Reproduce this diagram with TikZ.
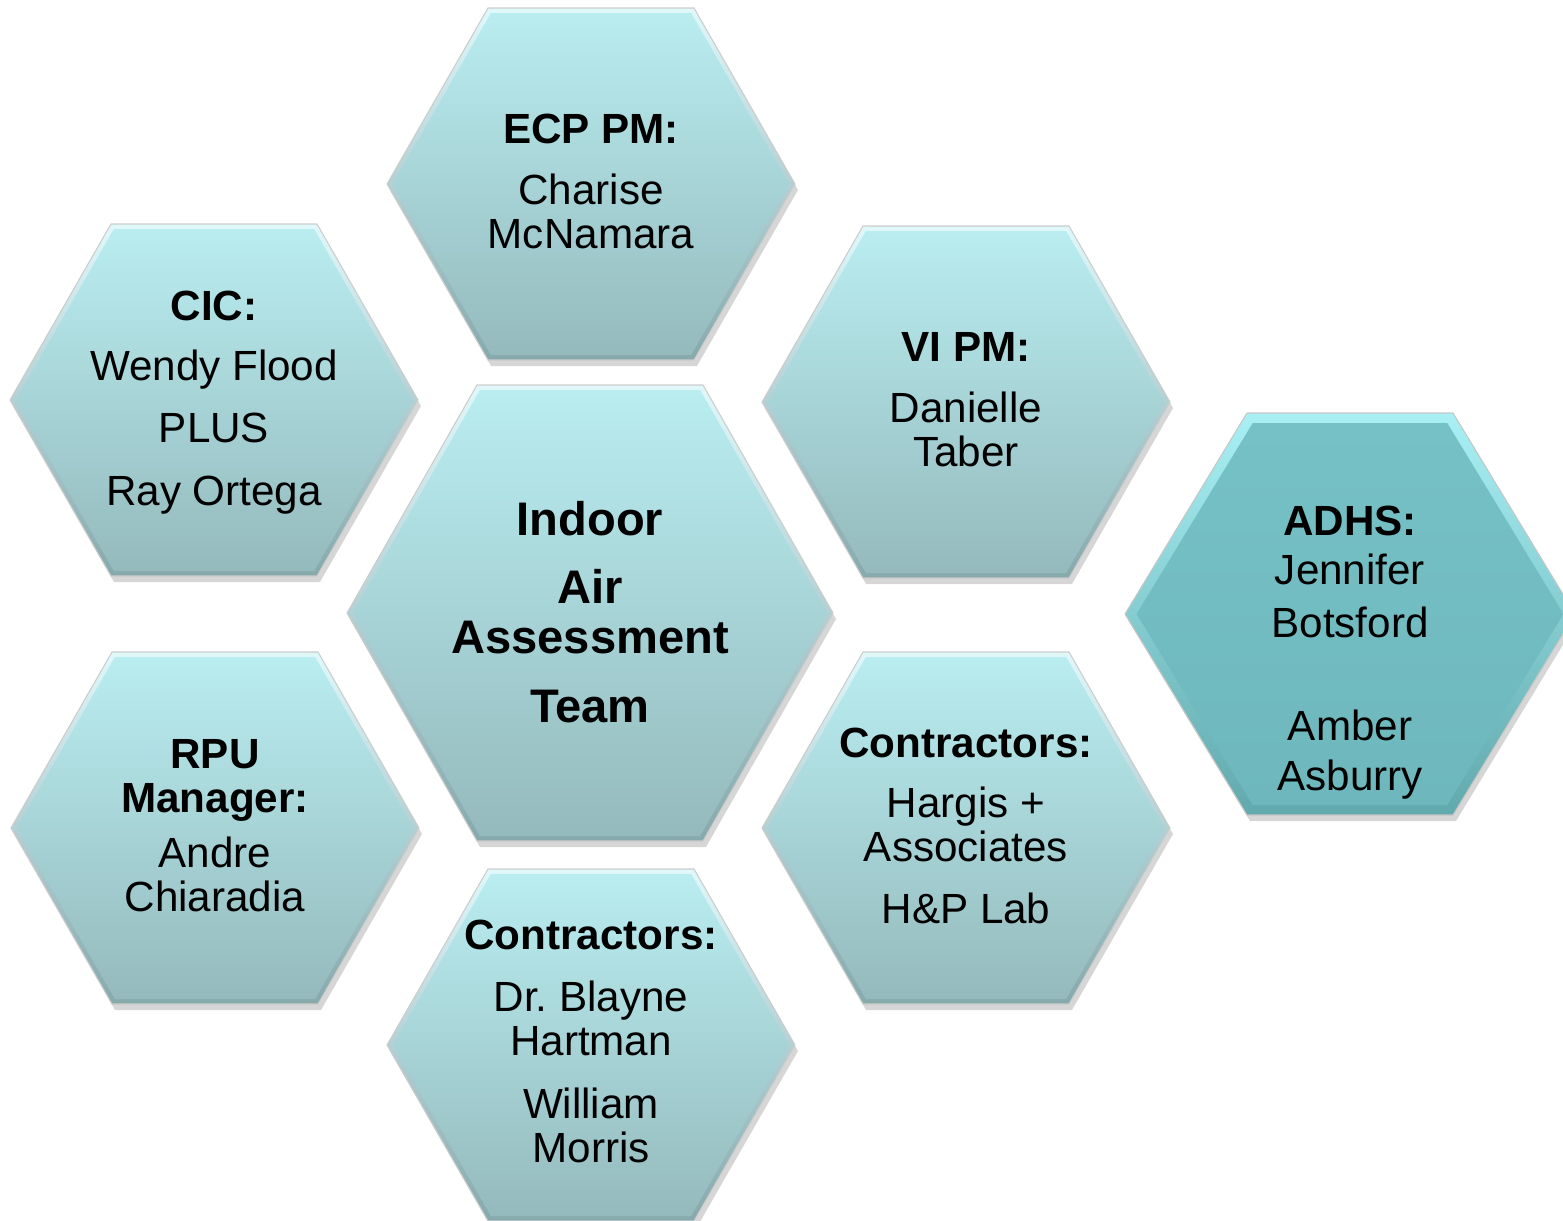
\documentclass[tikz,border=0pt]{standalone}
\usepackage{fontspec}
\setmainfont{Liberation Sans}
\usepackage{tikz}

\definecolor{hextop}{HTML}{B9EDF0}
\definecolor{hexbot}{HTML}{95BABD}
\definecolor{hexrimtop}{HTML}{E0F8FA}
\definecolor{hexrimbot}{HTML}{86A9AC}
\definecolor{adhstop}{HTML}{76C1C6}
\definecolor{adhsbot}{HTML}{6EB8BD}
\definecolor{adhsrimtop}{HTML}{A8F0F4}
\definecolor{adhsrimbot}{HTML}{62A9AE}

% hexagon cell: centre x, centre y, half width, top inset, half height, bevel, look
\newcommand{\hexcell}[7]{%
  \fill[hexshadow] (#1-#3+3,#2+6) -- (#1-#3+#4+3,#2-#5+6) -- (#1+#3-#4+3,#2-#5+6) -- (#1+#3+3,#2+6) -- (#1+#3-#4+3,#2+#5+6) -- (#1-#3+#4+3,#2+#5+6) -- cycle;
  \shade[#7rim] (#1-#3,#2) -- (#1-#3+#4,#2-#5) -- (#1+#3-#4,#2-#5) -- (#1+#3,#2) -- (#1+#3-#4,#2+#5) -- (#1-#3+#4,#2+#5) -- cycle;
  \shade[#7face] (#1-#3+1.155*#6,#2) -- (#1-#3+#4+0.577*#6,#2-#5+#6) -- (#1+#3-#4-0.577*#6,#2-#5+#6) -- (#1+#3-1.155*#6,#2) -- (#1+#3-#4-0.577*#6,#2+#5-#6) -- (#1-#3+#4+0.577*#6,#2+#5-#6) -- cycle;
}

\begin{document}
\begin{tikzpicture}[x=0.01cm, y=-0.01cm,
		hexshadow/.style={fill=black, opacity=0.16},
		lightrim/.style={top color=hexrimtop, bottom color=hexrimbot, draw=gray!40, line width=0.3pt},
		lightface/.style={top color=hextop, bottom color=hexbot},
		adhsrim/.style={top color=adhsrimtop, bottom color=adhsrimbot, draw=gray!45, line width=0.3pt},
		adhsface/.style={top color=adhstop, bottom color=adhsbot},
		teamtext/.style={align=center, anchor=base, inner sep=0pt, font=\fontsize{12}{12.5}\selectfont},
		coretext/.style={teamtext, font=\bfseries\fontsize{13.4}{14.2}\selectfont}]
	\useasboundingbox (0,0) rectangle (1563,1220);
	% Cells:
	\hexcell{591}{184}{204}{101}{176}{5}{light}
	\hexcell{214}{400}{204}{101}{176}{5}{light}
	\hexcell{966}{402}{204}{101}{176}{5}{light}
	\hexcell{590}{613}{243}{130}{228}{5}{light}
	\hexcell{1350}{614}{225}{122}{201}{10}{adhs}
	\hexcell{215}{828}{204}{101}{176}{5}{light}
	\hexcell{966}{828}{204}{101}{176}{5}{light}
	\hexcell{591}{1045}{204}{101}{176}{5}{light}
	% Texts (placed at the baseline of the last line):
	\node[teamtext] (ecppm) at (591,248) {\textbf{ECP PM:}\\[4.6pt]Charise\\McNamara};
	\node[teamtext] (cic) at (214,505) {\textbf{CIC:}\\[4.6pt]Wendy Flood\\[5.1pt]PLUS\\[5.4pt]Ray Ortega};
	\node[teamtext] (vipm) at (966,466) {\textbf{VI PM:}\\[4.6pt]Danielle\\Taber};
	\node[coretext] (iaat) at (590,722) {Indoor\\[5.1pt]Air\\Assessment\\[5.4pt]Team};
	\node[teamtext] (adhs) at (1350,790) {\textbf{ADHS:}\\[1.7pt]Jennifer\\[2.3pt]Botsford\\[16.8pt]Amber\\[1.7pt]Asburry};
	\node[teamtext] (rpu) at (215,911) {\textbf{RPU}\\\textbf{Manager:}\\[3.1pt]Andre\\Chiaradia};
	\node[teamtext] (hpcon) at (966,923) {\textbf{Contractors:}\\[4.6pt]Hargis +\\Associates\\[5.1pt]H\&P Lab};
	\node[teamtext] (drcon) at (591,1162) {\textbf{Contractors:}\\[5.1pt]Dr.\ Blayne\\Hartman\\[5.4pt]William\\Morris};
\end{tikzpicture}
\end{document}
